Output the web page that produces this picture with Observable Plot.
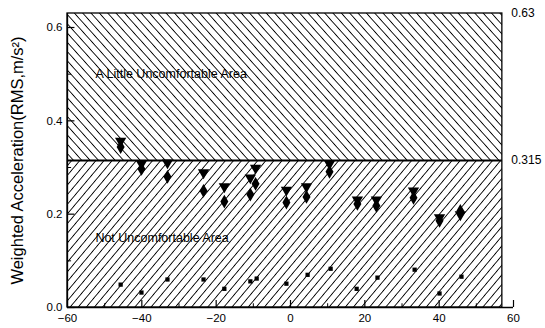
<!DOCTYPE html>
<html>
<head>
<meta charset="utf-8">
<script src="https://cdn.jsdelivr.net/npm/d3@7"></script>
<script src="https://cdn.jsdelivr.net/npm/@observablehq/plot@0.6"></script>
<style>
  html, body { margin: 0; padding: 0; background: #fff; }
  #chart svg { display: block; }
</style>
</head>
<body>
<div id="chart"></div>
<script>
// Angles (deg) for each measurement point
const angles = [-45.7, -40.1, -33.1, -23.4, -17.8, -10.8, -9.4, -1.1, 4.3, 10.5, 18.0, 23.1, 33.1, 40.1, 45.7];
// Series A (down triangles)
const seriesA = [0.357, 0.308, 0.310, 0.289, 0.259, 0.278, 0.299, 0.252, 0.259, 0.308, 0.231, 0.231, 0.250, 0.193, 0.199];
// Series B (diamonds)
const seriesB = [0.344, 0.297, 0.280, 0.250, 0.227, 0.242, 0.265, 0.225, 0.237, 0.291, 0.222, 0.218, 0.235, 0.186, 0.207];
// Series C (small squares)
const anglesC = [-45.7, -40.1, -33.1, -23.4, -17.8, -10.8, -9.1, -1.1, 4.6, 10.8, 17.8, 23.4, 33.4, 40.1, 46.0];
const seriesC = [0.049, 0.032, 0.060, 0.060, 0.040, 0.056, 0.062, 0.051, 0.070, 0.083, 0.040, 0.064, 0.081, 0.030, 0.066];

// Comfort zones
const zoneNames = ["Not Uncomfortable Area", "A Little Uncomfortable Area"];
const zoneLow = [0, 0.315];
const zoneHigh = [0.315, 0.63];
const zoneLabelY = [0.148, 0.50];
const zoneLabelX = -52.5;
const boxXMin = -60, boxXMax = 57;
const limitLabels = ["0.315", "0.63"];
const limitValues = [0.315, 0.63];

const xMajor = [-60, -40, -20, 0, 20, 40, 60];
const xMinor = [-50, -30, -10, 10, 30, 50];
const yMajor = [0, 0.2, 0.4, 0.6];
const yMinor = [0.1, 0.3, 0.5];
const yLabel = "Weighted Acceleration(RMS,m/s\u00B2)";

const ptsA = angles.map((x, i) => ({x, y: seriesA[i]}));
const ptsB = angles.map((x, i) => ({x, y: seriesB[i]}));
const ptsC = anglesC.map((x, i) => ({x, y: seriesC[i]}));
const zones = zoneNames.map((name, i) => ({name, y1: zoneLow[i], y2: zoneHigh[i], ly: zoneLabelY[i], fill: i === 0 ? "url(#hatchSlash)" : "url(#hatchBack)"}));
const limits = limitLabels.map((t, i) => ({t, y: limitValues[i]}));

const font = "Arial, 'Liberation Sans', Helvetica, sans-serif";

const chart = Plot.plot({
  width: 545,
  height: 328,
  marginLeft: 67,
  marginRight: 32,
  marginTop: 13,
  marginBottom: 21,
  style: {fontFamily: font, fontSize: "11px", color: "#000", background: "#fff"},
  x: {domain: [-60, 60]},
  y: {domain: [0, 0.63]},
  marks: [
    Plot.rect(zones, {x1: boxXMin, x2: boxXMax, y1: "y1", y2: "y2", fill: d => d.fill}),
    Plot.rect([0], {x1: boxXMin, x2: boxXMax, y1: 0, y2: 0.63, fill: "none", stroke: "#000", strokeWidth: 1.3}),
    Plot.ruleY([0.315], {x1: boxXMin, x2: boxXMax, stroke: "#000", strokeWidth: 2}),
    Plot.ruleY([0], {stroke: "#000", strokeWidth: 1.5}),
    Plot.ruleX([-60], {stroke: "#000", strokeWidth: 1.3}),
    Plot.ruleX(xMajor, {x: d => d, y1: 0, y2: 0.015, stroke: "#000", strokeWidth: 1.2}),
    Plot.ruleX(xMinor, {x: d => d, y1: 0, y2: 0.008, stroke: "#000", strokeWidth: 1}),
    Plot.ruleY(yMajor, {y: d => d, x1: -60, x2: -58, stroke: "#000", strokeWidth: 1.2}),
    Plot.ruleY(yMinor, {y: d => d, x1: -60, x2: -58.9, stroke: "#000", strokeWidth: 1}),
    Plot.dot(ptsC, {x: "x", y: "y", symbol: "square", r: 2.4, fill: "#000", stroke: "none"}),
    Plot.dot(ptsB, {x: "x", y: "y", symbol: "diamond", r: 4.2, fill: "#000", stroke: "none"}),
    Plot.dot(ptsA, {x: "x", y: "y", symbol: "triangle", rotate: 180, r: 4.2, fill: "#000", stroke: "none"}),
    Plot.text(zones, {x: zoneLabelX, y: "ly", text: "name", textAnchor: "start", fontSize: 12.5, fill: "#000"}),
    Plot.text(limits, {x: boxXMax, y: "y", text: "t", textAnchor: "start", dx: 9, fontSize: 12, fill: "#000"}),
    Plot.axisX(xMajor, {tickSize: 0, tickPadding: 6, fontSize: 11.5, label: null}),
    Plot.axisY(yMajor, {tickSize: 0, tickPadding: 5, fontSize: 11.5, label: null, tickFormat: d3.format(".1f")}),
    Plot.text([yLabel], {frameAnchor: "left", textAnchor: "middle", dx: -50, rotate: -90, fontSize: 16.5, fill: "#000"})
  ]
});

// Hatch pattern definitions
const svg = d3.select(chart);
const defs = svg.insert("defs", ":first-child");
function hatch(id, angle) {
  const h = 6.2;
  const p = defs.append("pattern")
    .attr("id", id)
    .attr("patternUnits", "userSpaceOnUse")
    .attr("width", 20)
    .attr("height", h)
    .attr("patternTransform", `rotate(${angle})`);
  p.append("rect").attr("width", 20).attr("height", h).attr("fill", "#fff");
  p.append("line").attr("x1", 0).attr("x2", 20).attr("y1", h / 2).attr("y2", h / 2)
    .attr("stroke", "#000").attr("stroke-width", 0.9);
}
hatch("hatchBack", 48);
hatch("hatchSlash", -50);

document.getElementById("chart").appendChild(chart);
</script>
</body>
</html>
